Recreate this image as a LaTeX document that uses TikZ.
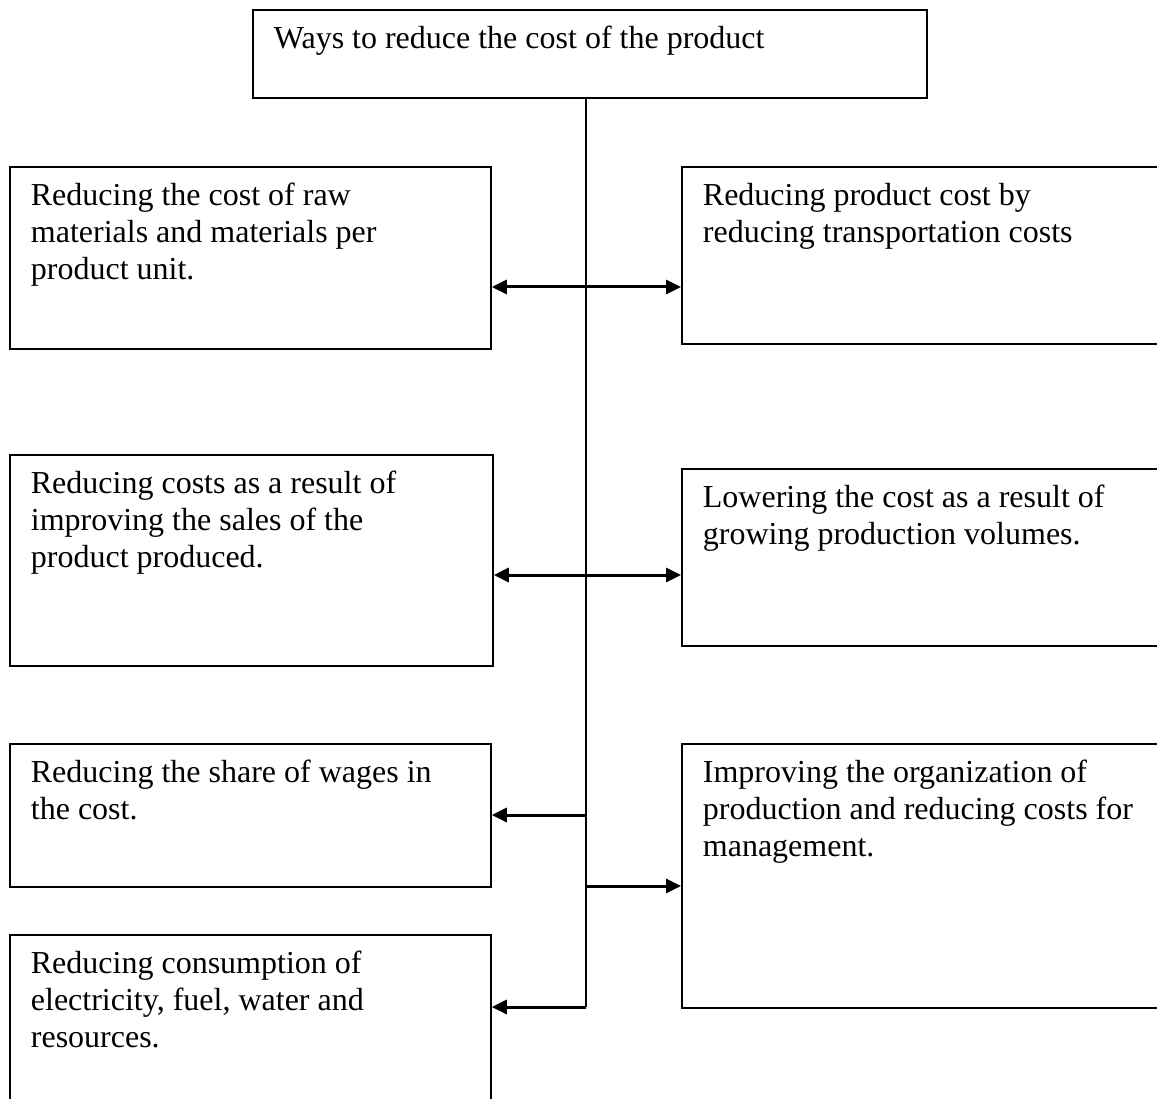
\documentclass[tikz,border=0pt]{standalone}
\usepackage{fontspec}
\setmainfont{Liberation Serif}
\usetikzlibrary{arrows.meta}

\tikzstyle{block} = [rectangle, draw=black, line width=1.8pt, anchor=north west,
inner xsep=21pt, inner ysep=0pt, align=flush left, text height=39pt]
\tikzstyle{line} = [line width=1.8pt]
\tikzstyle{arrow} = [line width=3pt,->,>={Triangle[length=15pt,width=14pt]}]

\begin{document}
\begin{tikzpicture}[x=1pt, y=-1pt, font=\fontsize{32}{36.8}\selectfont]
    \useasboundingbox (0,0) rectangle (1157,1099);
    \clip (0,0) rectangle (1157,1099);

    \node (ways) [block, text width=632pt, text depth=49pt] at (252,9) {Ways to reduce the cost of the product};

    \node (lraw) [block, text width=439pt, text depth=143pt] at (9,166) {Reducing the cost of raw\\materials and materials per\\product unit.};
    \node (lsales) [block, text width=441pt, text depth=172pt] at (9,454) {Reducing costs as a result of\\improving the sales of the\\product produced.};
    \node (lwages) [block, text width=439pt, text depth=104pt] at (9,743) {Reducing the share of wages in\\the cost.};
    \node (lenergy) [block, text width=439pt, text depth=161pt] at (9,934) {Reducing consumption of\\electricity, fuel, water and\\resources.};

    \node (rtrans) [block, text width=448pt, text depth=138pt] at (681,166) {Reducing product cost by\\reducing transportation costs};
    \node (rvolume) [block, text width=448pt, text depth=138pt] at (681,468) {Lowering the cost as a result of\\growing production volumes.};
    \node (rorg) [block, text width=448pt, text depth=225pt] at (681,743) {Improving the organization of\\production and reducing costs for\\management.};

    \coordinate (row1) at (586,287);
    \coordinate (row2) at (586,575);
    \coordinate (row3) at (586,815);
    \coordinate (row4) at (586,886);
    \coordinate (trunk) at (586,1007);

    \draw [line] (ways.south -| trunk) -- (trunk);
    \draw [arrow,<->] (row1 -| lraw.east) -- (row1 -| rtrans.west);
    \draw [arrow,<->] (row2 -| lsales.east) -- (row2 -| rvolume.west);
    \draw [arrow] (row3) -- (row3 -| lwages.east);
    \draw [arrow] (row4) -- (row4 -| rorg.west);
    \draw [arrow] (trunk) -- (trunk -| lenergy.east);
\end{tikzpicture}
\end{document}
